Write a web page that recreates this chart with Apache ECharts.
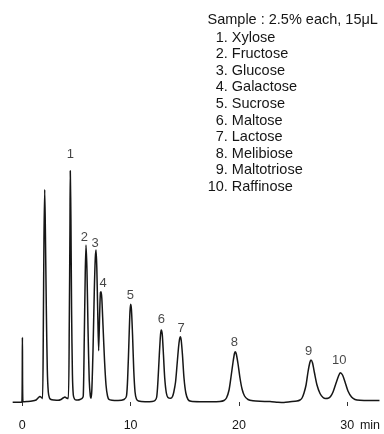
<!DOCTYPE html>
<html>
<head>
<meta charset="utf-8">
<style>
  html, body { margin: 0; padding: 0; background: #fff; }
  #chart { width: 384px; height: 434px; }
</style>
<script src="https://cdn.jsdelivr.net/npm/echarts@6/dist/echarts.min.js"></script>
</head>
<body>
<div id="chart"></div>
<script>
// Detector trace: [retention time (min), signal]
const traceTime = [
  -0.89, -0.40, -0.04, 0.01, 0.06, 0.43, 0.90, 1.27, 1.45, 1.63, 1.77, 1.87,
  1.94, 2.00, 2.07, 2.13, 2.22, 2.31, 2.40, 2.51, 2.65, 2.93, 3.30, 3.57, 3.76,
  3.94, 4.08, 4.25, 4.34, 4.40, 4.43, 4.49, 4.55, 4.63, 4.71, 4.82, 4.96, 5.14,
  5.33, 5.51, 5.63, 5.72, 5.81, 5.88, 5.97, 6.07, 6.18, 6.28, 6.34, 6.42, 6.53,
  6.65, 6.74, 6.81, 6.88, 6.97, 7.05, 7.14, 7.21, 7.27, 7.34, 7.45, 7.59, 7.73,
  7.87, 8.01, 8.28, 8.84, 9.39, 9.62, 9.74, 9.85, 9.94, 10.01, 10.08, 10.18,
  10.29, 10.41, 10.54, 10.73, 11.33, 11.98, 12.25, 12.41, 12.53, 12.65, 12.76,
  12.83, 12.92, 13.02, 13.15, 13.30, 13.45, 13.70, 13.87, 13.99, 14.15, 14.28,
  14.42, 14.52, 14.59, 14.67, 14.79, 14.93, 15.10, 15.30, 15.58, 16.41, 17.33,
  18.25, 18.62, 18.85, 19.09, 19.27, 19.46, 19.59, 19.67, 19.76, 19.92, 20.10,
  20.29, 20.52, 20.84, 21.30, 21.95, 22.87, 23.61, 24.16, 24.72, 25.36, 25.64,
  25.83, 26.01, 26.20, 26.38, 26.55, 26.66, 26.80, 26.98, 27.21, 27.49, 27.77,
  28.00, 28.23, 28.46, 28.69, 28.97, 29.20, 29.36, 29.57, 29.80, 30.07, 30.40,
  30.72, 31.18, 32.11, 32.98
];
const traceSignal = [
  -0.3, -0.3, -0.2, 64.5, 0.2, 0.5, 1.0, 2, 4, 5.5, 4.5, 3.5,
  72, 162, 212.5, 172, 92, 32, 10, 4, 2.5, 2, 1.7, 2.5, 4,
  5, 4, 3.5, 82, 172, 231.3, 182, 92, 27, 7, 3, 2, 2,
  2.5, 3.5, 6, 62, 127, 157, 132, 72, 22, 6, 3.7, 12, 52,
  112, 144, 152, 134, 87, 51.3, 87, 109, 110.3, 104, 77, 42, 17,
  6, 2.5, 1.7, 1.5, 2.5, 6, 27, 62, 90, 97.7, 92, 67,
  32, 10, 3, 1, 0.3, 0.5, 1.5, 5, 22, 47, 67,
  72, 68, 50, 24, 9, 4.5, 3.7, 5.5, 10, 20, 36,
  54, 63, 65.3, 62, 47, 24, 9, 2.5, 0.7, 0.3, 0.3,
  0.5, 1.5, 4, 12, 25, 40, 48.5, 50.3, 48, 38, 24,
  13, 6, 2.5, 1.2, 0.7, 0.5, -0.2, -0.5, 0.2, 1, 2,
  4, 9, 17, 30, 39.5, 42, 39, 29, 17, 8.5, 4.5,
  3.5, 3.7, 5.5, 10, 19, 26, 29.3, 27, 20, 11, 5,
  2.5, 1.7, 1.5, 1.5
];

// Numbered sugar peaks: apex time and apex signal
const peakNumbers = ['1', '2', '3', '4', '5', '6', '7', '8', '9', '10'];
const peakTime = [4.43, 5.88, 6.81, 7.27, 10.01, 12.83, 14.59, 19.67, 26.66, 29.36];
const peakSignal = [231.3, 157, 152, 110.3, 97.7, 72, 65.3, 50.3, 42, 29.3];

const sugarNames = ['Xylose', 'Fructose', 'Glucose', 'Galactose', 'Sucrose',
  'Maltose', 'Lactose', 'Melibiose', 'Maltotriose', 'Raffinose'];
const sampleNote = 'Sample : 2.5% each, 15μL';

const xTicks = [0, 10, 20, 30];
const xUnit = 'min';

// Placement of each peak number relative to its apex (pixels)
const peakLabelOffset = [[0, -16], [-1.7, -7.5], [-1, -6.5], [2, -8.5], [-0.4, -9],
  [0, -10.5], [0.7, -8.5], [-1, -9.5], [-2.3, -8.5], [-1, -12]];

const FONT = '"Liberation Sans", Arial, Helvetica, sans-serif';
const INK = '#161616';

const trace = traceTime.map((t, i) => [t, traceSignal[i]]);
const peaks = peakTime.map((t, i) => ({
  value: [t, peakSignal[i]],
  name: peakNumbers[i],
  label: { offset: peakLabelOffset[i] }
}));

const graphics = [{
  type: 'text', left: 207.5, top: 12,
  style: { text: sampleNote, font: '14.5px ' + FONT, fill: INK }
}];
sugarNames.forEach((name, i) => {
  const y = 37.8 + i * 16.55;
  graphics.push({
    type: 'text', x: 227.8, y: y,
    style: { text: (i + 1) + '.', font: '14.5px ' + FONT, fill: INK, align: 'right', verticalAlign: 'middle' }
  });
  graphics.push({
    type: 'text', x: 231.8, y: y,
    style: { text: name, font: '14.5px ' + FONT, fill: INK, align: 'left', verticalAlign: 'middle' }
  });
});
graphics.push({
  type: 'text', x: 370, y: 425.5,
  style: { text: xUnit, font: '12.5px ' + FONT, fill: INK, align: 'center', verticalAlign: 'middle' }
});

const chart = echarts.init(document.getElementById('chart'), null, { renderer: 'canvas' });
chart.setOption({
  animation: false,
  backgroundColor: '#ffffff',
  grid: { left: 11.47, right: 4.3, top: 152, bottom: 22 },
  xAxis: {
    type: 'value', min: -1, max: 33,
    axisLine: { show: false },
    splitLine: { show: false },
    axisTick: { show: true, customValues: xTicks, length: 4, lineStyle: { color: '#333', width: 1 } },
    axisLabel: { show: true, customValues: xTicks, margin: 7, fontSize: 12.5, fontFamily: FONT, color: INK }
  },
  yAxis: {
    type: 'value', min: -10, max: 250, show: false,
    splitLine: { show: false }
  },
  graphic: graphics,
  series: [
    {
      type: 'line',
      data: trace,
      symbol: 'none',
      smooth: 0.25,
      clip: false,
      lineStyle: { color: INK, width: 1.5 }
    },
    {
      type: 'scatter',
      data: peaks,
      symbolSize: 1,
      itemStyle: { color: 'rgba(0,0,0,0)' },
      label: {
        show: true, position: 'inside', formatter: '{b}',
        fontSize: 13, fontFamily: FONT, color: INK
      },
      clip: false
    }
  ]
});
</script>
</body>
</html>
